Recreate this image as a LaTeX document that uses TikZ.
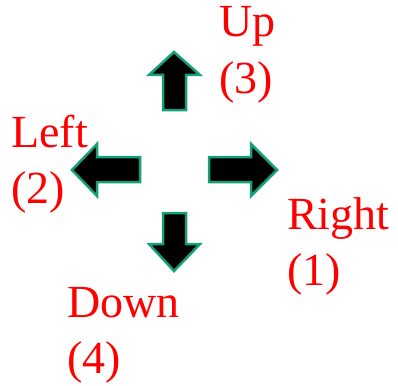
\documentclass[tikz,border=0pt]{standalone}
\usepackage{fontspec}
\setmainfont{Liberation Serif}
\usepackage{tikz}
\definecolor{keyred}{HTML}{FF0000}
\definecolor{keygreen}{HTML}{14A07A}

\tikzset{
  keyarrow/.style={fill=black,draw=keygreen,line width=2.5pt,line join=miter},
  keylabel/.style={text=keyred,font=\fontsize{46}{56}\selectfont,align=left,inner sep=0pt,anchor=base west}
}

\begin{document}
\begin{tikzpicture}[x=1pt,y=-1pt]
    \useasboundingbox (0,0) rectangle (398,385);
    % the four arrow keys
    \draw[keyarrow] (174,52) -- (200,75) -- (186,75) -- (186,110) -- (163,110) -- (163,75) -- (149,75) -- cycle;
    \draw[keyarrow] (72,170) -- (97,144) -- (97,157) -- (140,157) -- (140,182) -- (97,182) -- (97,196) -- cycle;
    \draw[keyarrow] (277,170) -- (251,144) -- (251,157) -- (209,157) -- (209,182) -- (251,182) -- (251,196) -- cycle;
    \draw[keyarrow] (174,271) -- (200,244) -- (186,244) -- (186,213) -- (163,213) -- (163,244) -- (149,244) -- cycle;
    % labels (base = last line)
    \node[keylabel] (up) at (219,93) {Up\\(3)};
    \node[keylabel] (left) at (11,203) {Left\\(2)};
    \node[keylabel] (right) at (287,285) {Right\\(1)};
    \node[keylabel] (down) at (67,373) {Down\\(4)};
\end{tikzpicture}
\end{document}
